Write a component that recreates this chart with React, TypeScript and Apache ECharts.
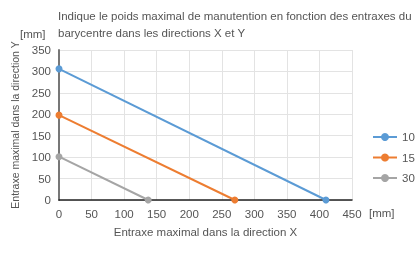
import React, { useEffect, useRef } from "react";
import * as echarts from "echarts";

const seriesNames = ["10", "15", "30"];
const colors = ["#5b9bd5", "#ed7d31", "#a5a5a5"];
const series10: [number, number][] = [[0, 306], [410, 0]];
const series15: [number, number][] = [[0, 198], [270, 0]];
const series30: [number, number][] = [[0, 101], [137, 0]];
const titleLines = [
  "Indique le poids maximal de manutention en fonction des entraxes du",
  "barycentre dans les directions X et Y",
];
const xTitle = "Entraxe maximal dans la direction X";
const yTitle = "Entraxe maximal dans la direction Y";
const unit = "[mm]";

const FONT = "Liberation Sans, Arial, sans-serif";
const TXT = "#555";
const FS = 11.5;

export default function App() {
  const ref = useRef<HTMLDivElement>(null);
  useEffect(() => {
    if (!ref.current) return;
    const chart = echarts.init(ref.current, undefined, { renderer: "svg" });
    const data = [series10, series15, series30];
    chart.setOption({
      animation: false,
      textStyle: { fontFamily: FONT },
      grid: { left: 59, right: 65, top: 50, bottom: 65 },
      xAxis: {
        type: "value",
        min: 0,
        max: 450,
        interval: 50,
        name: xTitle,
        nameLocation: "middle",
        nameGap: 26,
        nameTextStyle: { color: TXT, fontSize: FS, fontFamily: FONT },
        axisLine: { show: true, lineStyle: { color: "#222", width: 1.5 } },
        axisTick: { show: false },
        axisLabel: { color: TXT, fontSize: FS, fontFamily: FONT, margin: 8 },
        splitLine: { show: true, lineStyle: { color: "#e3e3e3", width: 1 } },
      },
      yAxis: {
        type: "value",
        min: 0,
        max: 350,
        interval: 50,
        name: yTitle,
        nameLocation: "middle",
        nameGap: 37,
        nameRotate: 90,
        nameTextStyle: { color: TXT, fontSize: 10.5, fontFamily: FONT },
        axisLine: { show: true, lineStyle: { color: "#777", width: 2 } },
        axisTick: { show: false },
        axisLabel: { color: TXT, fontSize: FS, fontFamily: FONT, margin: 8 },
        splitLine: { show: true, lineStyle: { color: "#e3e3e3", width: 1 } },
      },
      legend: {
        orient: "vertical",
        left: 372,
        top: 131,
        itemWidth: 24,
        itemHeight: 10,
        itemGap: 8.5,
        padding: 0,
        textStyle: { color: TXT, fontSize: FS, fontFamily: FONT },
        data: seriesNames,
      },
      graphic: [
        {
          type: "text",
          left: 58,
          top: 10,
          style: { text: titleLines[0], fill: TXT, fontSize: FS, fontFamily: FONT },
        },
        {
          type: "text",
          left: 58,
          top: 27,
          style: { text: titleLines[1], fill: TXT, fontSize: FS, fontFamily: FONT },
        },
        {
          type: "text",
          left: 20,
          top: 28,
          style: { text: unit, fill: TXT, fontSize: FS, fontFamily: FONT },
        },
        {
          type: "text",
          left: 369,
          top: 207,
          style: { text: unit, fill: TXT, fontSize: FS, fontFamily: FONT },
        },
      ],
      series: seriesNames.map((n, i) => ({
        name: n,
        type: "line",
        data: data[i],
        color: colors[i],
        lineStyle: { width: 2, color: colors[i] },
        itemStyle: { color: colors[i] },
        symbol: "circle",
        symbolSize: 7,
        clip: false,
      })),
    });
    return () => chart.dispose();
  }, []);
  return (
    <div
      ref={ref}
      style={{ position: "fixed", left: 0, top: 0, width: 417, height: 265 }}
    />
  );
}
